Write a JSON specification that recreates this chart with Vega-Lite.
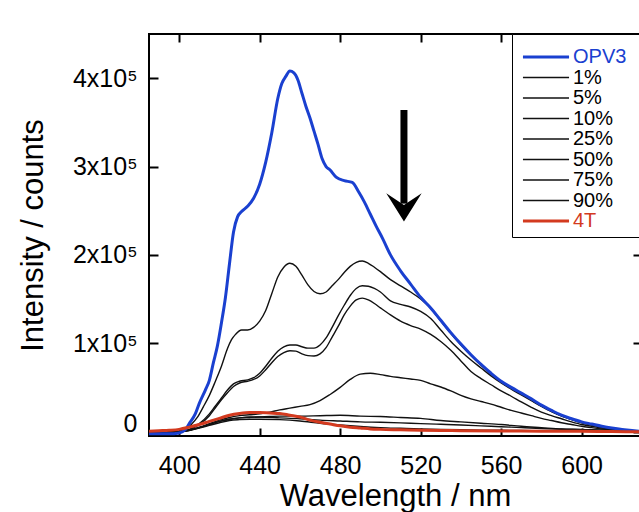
{
"$schema":"https://vega.github.io/schema/vega-lite/v6.json",
"width":492,"height":402,
"autosize":"none",
"padding":{"left":149,"top":34,"right":0,"bottom":76},
"background":"white",
"config":{"view":{"stroke":"black","strokeWidth":2},"font":"Liberation Sans"},
"datasets":{
"spectra":[
{"s":"OPV3","w":385,"i":-2500},{"s":"OPV3","w":390,"i":-2500},{"s":"OPV3","w":395,"i":-2500},{"s":"OPV3","w":400,"i":-1500},{"s":"OPV3","w":403,"i":2000},{"s":"OPV3","w":405,"i":9000},{"s":"OPV3","w":408,"i":20000},{"s":"OPV3","w":410,"i":32000},{"s":"OPV3","w":413,"i":47000},{"s":"OPV3","w":415,"i":58000},{"s":"OPV3","w":417,"i":78000},{"s":"OPV3","w":419,"i":97000},{"s":"OPV3","w":421,"i":123000},{"s":"OPV3","w":423,"i":152000},{"s":"OPV3","w":425,"i":190000},{"s":"OPV3","w":427,"i":226000},{"s":"OPV3","w":429,"i":243000},{"s":"OPV3","w":431,"i":249000},{"s":"OPV3","w":434,"i":255000},{"s":"OPV3","w":437,"i":264000},{"s":"OPV3","w":440,"i":280000},{"s":"OPV3","w":443,"i":305000},{"s":"OPV3","w":446,"i":338000},{"s":"OPV3","w":449,"i":377000},{"s":"OPV3","w":451,"i":394000},{"s":"OPV3","w":453,"i":402000},{"s":"OPV3","w":455,"i":408000},{"s":"OPV3","w":457,"i":406000},{"s":"OPV3","w":459,"i":398000},{"s":"OPV3","w":461,"i":383000},{"s":"OPV3","w":463,"i":368000},{"s":"OPV3","w":465,"i":355000},{"s":"OPV3","w":467,"i":340000},{"s":"OPV3","w":469,"i":325000},{"s":"OPV3","w":471,"i":309000},{"s":"OPV3","w":473,"i":300000},{"s":"OPV3","w":475,"i":296000},{"s":"OPV3","w":478,"i":288000},{"s":"OPV3","w":482,"i":284000},{"s":"OPV3","w":486,"i":282000},{"s":"OPV3","w":489,"i":272000},{"s":"OPV3","w":492,"i":260000},{"s":"OPV3","w":495,"i":246000},{"s":"OPV3","w":498,"i":232000},{"s":"OPV3","w":501,"i":219000},{"s":"OPV3","w":505,"i":200000},{"s":"OPV3","w":510,"i":182000},{"s":"OPV3","w":515,"i":167000},{"s":"OPV3","w":520,"i":152000},{"s":"OPV3","w":525,"i":140000},{"s":"OPV3","w":530,"i":126000},{"s":"OPV3","w":535,"i":112000},{"s":"OPV3","w":540,"i":99000},{"s":"OPV3","w":545,"i":87000},{"s":"OPV3","w":550,"i":76000},{"s":"OPV3","w":555,"i":66000},{"s":"OPV3","w":560,"i":57000},{"s":"OPV3","w":565,"i":50000},{"s":"OPV3","w":570,"i":43500},{"s":"OPV3","w":575,"i":37000},{"s":"OPV3","w":580,"i":30000},{"s":"OPV3","w":585,"i":24000},{"s":"OPV3","w":590,"i":18500},{"s":"OPV3","w":595,"i":14500},{"s":"OPV3","w":600,"i":11000},{"s":"OPV3","w":605,"i":8500},{"s":"OPV3","w":610,"i":6000},{"s":"OPV3","w":615,"i":4000},{"s":"OPV3","w":620,"i":2500},{"s":"OPV3","w":625,"i":1200},{"s":"OPV3","w":629,"i":300},

{"s":"1%","w":385,"i":-1000},{"s":"1%","w":395,"i":-500},{"s":"1%","w":400,"i":0},{"s":"1%","w":403,"i":2000},{"s":"1%","w":406,"i":8000},{"s":"1%","w":409,"i":16000},{"s":"1%","w":412,"i":28000},{"s":"1%","w":415,"i":41000},{"s":"1%","w":418,"i":57000},{"s":"1%","w":421,"i":74000},{"s":"1%","w":424,"i":94000},{"s":"1%","w":426,"i":104000},{"s":"1%","w":428,"i":110000},{"s":"1%","w":431,"i":115000},{"s":"1%","w":434,"i":115000},{"s":"1%","w":437,"i":118000},{"s":"1%","w":440,"i":125000},{"s":"1%","w":443,"i":137000},{"s":"1%","w":446,"i":156000},{"s":"1%","w":449,"i":175000},{"s":"1%","w":452,"i":186000},{"s":"1%","w":455,"i":190500},{"s":"1%","w":458,"i":187000},{"s":"1%","w":461,"i":177000},{"s":"1%","w":464,"i":166000},{"s":"1%","w":467,"i":158500},{"s":"1%","w":470,"i":156000},{"s":"1%","w":473,"i":158000},{"s":"1%","w":476,"i":165000},{"s":"1%","w":479,"i":172000},{"s":"1%","w":482,"i":180000},{"s":"1%","w":485,"i":187000},{"s":"1%","w":488,"i":191500},{"s":"1%","w":491,"i":193000},{"s":"1%","w":494,"i":190500},{"s":"1%","w":497,"i":186000},{"s":"1%","w":500,"i":181000},{"s":"1%","w":505,"i":172000},{"s":"1%","w":510,"i":165000},{"s":"1%","w":515,"i":158000},{"s":"1%","w":520,"i":150000},{"s":"1%","w":525,"i":139500},{"s":"1%","w":530,"i":125000},{"s":"1%","w":535,"i":111000},{"s":"1%","w":540,"i":98000},{"s":"1%","w":545,"i":86000},{"s":"1%","w":550,"i":75000},{"s":"1%","w":555,"i":65000},{"s":"1%","w":560,"i":56000},{"s":"1%","w":565,"i":49000},{"s":"1%","w":570,"i":42500},{"s":"1%","w":575,"i":36000},{"s":"1%","w":580,"i":29000},{"s":"1%","w":585,"i":23000},{"s":"1%","w":590,"i":18000},{"s":"1%","w":595,"i":14000},{"s":"1%","w":600,"i":10500},{"s":"1%","w":605,"i":8000},{"s":"1%","w":610,"i":5500},{"s":"1%","w":615,"i":3800},{"s":"1%","w":620,"i":2300},{"s":"1%","w":625,"i":1100},{"s":"1%","w":629,"i":300},

{"s":"5%","w":385,"i":-1000},{"s":"5%","w":400,"i":0},{"s":"5%","w":405,"i":2500},{"s":"5%","w":410,"i":9000},{"s":"5%","w":415,"i":20000},{"s":"5%","w":418,"i":29000},{"s":"5%","w":421,"i":38000},{"s":"5%","w":424,"i":47000},{"s":"5%","w":427,"i":54000},{"s":"5%","w":430,"i":57000},{"s":"5%","w":434,"i":58500},{"s":"5%","w":437,"i":61000},{"s":"5%","w":440,"i":66000},{"s":"5%","w":443,"i":74000},{"s":"5%","w":446,"i":83000},{"s":"5%","w":449,"i":91000},{"s":"5%","w":452,"i":96000},{"s":"5%","w":455,"i":98000},{"s":"5%","w":458,"i":98000},{"s":"5%","w":461,"i":96000},{"s":"5%","w":464,"i":94500},{"s":"5%","w":467,"i":94500},{"s":"5%","w":470,"i":98000},{"s":"5%","w":473,"i":106000},{"s":"5%","w":476,"i":118000},{"s":"5%","w":479,"i":131000},{"s":"5%","w":482,"i":143000},{"s":"5%","w":485,"i":154000},{"s":"5%","w":488,"i":162000},{"s":"5%","w":491,"i":165000},{"s":"5%","w":494,"i":164500},{"s":"5%","w":497,"i":162000},{"s":"5%","w":500,"i":158000},{"s":"5%","w":505,"i":148000},{"s":"5%","w":510,"i":144000},{"s":"5%","w":515,"i":141000},{"s":"5%","w":520,"i":136000},{"s":"5%","w":525,"i":128000},{"s":"5%","w":530,"i":115000},{"s":"5%","w":535,"i":102000},{"s":"5%","w":540,"i":91000},{"s":"5%","w":545,"i":81000},{"s":"5%","w":550,"i":72000},{"s":"5%","w":555,"i":63000},{"s":"5%","w":560,"i":55000},{"s":"5%","w":565,"i":48000},{"s":"5%","w":570,"i":41500},{"s":"5%","w":575,"i":35000},{"s":"5%","w":580,"i":28500},{"s":"5%","w":585,"i":22500},{"s":"5%","w":590,"i":17500},{"s":"5%","w":595,"i":13500},{"s":"5%","w":600,"i":10000},{"s":"5%","w":605,"i":7500},{"s":"5%","w":610,"i":5000},{"s":"5%","w":615,"i":3500},{"s":"5%","w":620,"i":2000},{"s":"5%","w":625,"i":1000},{"s":"5%","w":629,"i":300},

{"s":"10%","w":385,"i":-1000},{"s":"10%","w":400,"i":0},{"s":"10%","w":405,"i":2000},{"s":"10%","w":410,"i":8000},{"s":"10%","w":415,"i":18000},{"s":"10%","w":418,"i":27000},{"s":"10%","w":421,"i":36000},{"s":"10%","w":424,"i":44000},{"s":"10%","w":427,"i":51000},{"s":"10%","w":430,"i":55000},{"s":"10%","w":434,"i":57000},{"s":"10%","w":437,"i":59000},{"s":"10%","w":440,"i":63000},{"s":"10%","w":443,"i":70000},{"s":"10%","w":446,"i":78000},{"s":"10%","w":449,"i":85000},{"s":"10%","w":452,"i":89500},{"s":"10%","w":455,"i":91500},{"s":"10%","w":458,"i":91000},{"s":"10%","w":461,"i":88000},{"s":"10%","w":464,"i":86000},{"s":"10%","w":467,"i":85500},{"s":"10%","w":470,"i":88000},{"s":"10%","w":473,"i":95000},{"s":"10%","w":476,"i":107000},{"s":"10%","w":479,"i":119000},{"s":"10%","w":482,"i":132000},{"s":"10%","w":485,"i":142000},{"s":"10%","w":488,"i":149000},{"s":"10%","w":491,"i":151000},{"s":"10%","w":494,"i":149000},{"s":"10%","w":497,"i":145000},{"s":"10%","w":500,"i":140000},{"s":"10%","w":505,"i":132000},{"s":"10%","w":510,"i":125000},{"s":"10%","w":515,"i":120000},{"s":"10%","w":520,"i":116000},{"s":"10%","w":525,"i":110000},{"s":"10%","w":530,"i":102000},{"s":"10%","w":535,"i":92000},{"s":"10%","w":540,"i":80000},{"s":"10%","w":545,"i":68000},{"s":"10%","w":550,"i":60000},{"s":"10%","w":555,"i":53000},{"s":"10%","w":560,"i":46000},{"s":"10%","w":565,"i":40000},{"s":"10%","w":570,"i":33500},{"s":"10%","w":575,"i":27500},{"s":"10%","w":580,"i":22000},{"s":"10%","w":585,"i":18000},{"s":"10%","w":590,"i":14500},{"s":"10%","w":595,"i":11000},{"s":"10%","w":600,"i":8000},{"s":"10%","w":605,"i":6000},{"s":"10%","w":610,"i":4000},{"s":"10%","w":615,"i":2800},{"s":"10%","w":620,"i":1700},{"s":"10%","w":625,"i":800},{"s":"10%","w":629,"i":200},

{"s":"25%","w":385,"i":-1000},{"s":"25%","w":400,"i":0},{"s":"25%","w":405,"i":1500},{"s":"25%","w":410,"i":5000},{"s":"25%","w":415,"i":9000},{"s":"25%","w":420,"i":13000},{"s":"25%","w":425,"i":16000},{"s":"25%","w":430,"i":18000},{"s":"25%","w":435,"i":19000},{"s":"25%","w":440,"i":20000},{"s":"25%","w":445,"i":22000},{"s":"25%","w":450,"i":24500},{"s":"25%","w":455,"i":26500},{"s":"25%","w":460,"i":28500},{"s":"25%","w":465,"i":30500},{"s":"25%","w":470,"i":35000},{"s":"25%","w":475,"i":42000},{"s":"25%","w":480,"i":50000},{"s":"25%","w":485,"i":59000},{"s":"25%","w":490,"i":65000},{"s":"25%","w":495,"i":66000},{"s":"25%","w":500,"i":64500},{"s":"25%","w":505,"i":62500},{"s":"25%","w":510,"i":61000},{"s":"25%","w":515,"i":59500},{"s":"25%","w":520,"i":58000},{"s":"25%","w":525,"i":54000},{"s":"25%","w":530,"i":50500},{"s":"25%","w":535,"i":46000},{"s":"25%","w":540,"i":41000},{"s":"25%","w":545,"i":37000},{"s":"25%","w":550,"i":34000},{"s":"25%","w":555,"i":31000},{"s":"25%","w":560,"i":27500},{"s":"25%","w":565,"i":24000},{"s":"25%","w":570,"i":21000},{"s":"25%","w":575,"i":18000},{"s":"25%","w":580,"i":15000},{"s":"25%","w":585,"i":12500},{"s":"25%","w":590,"i":10000},{"s":"25%","w":595,"i":8000},{"s":"25%","w":600,"i":6000},{"s":"25%","w":605,"i":4500},{"s":"25%","w":610,"i":3000},{"s":"25%","w":615,"i":2000},{"s":"25%","w":620,"i":1200},{"s":"25%","w":625,"i":600},{"s":"25%","w":629,"i":200},

{"s":"50%","w":385,"i":-1000},{"s":"50%","w":400,"i":0},{"s":"50%","w":405,"i":1500},{"s":"50%","w":410,"i":4500},{"s":"50%","w":415,"i":8000},{"s":"50%","w":420,"i":11500},{"s":"50%","w":425,"i":14000},{"s":"50%","w":430,"i":15500},{"s":"50%","w":435,"i":16000},{"s":"50%","w":440,"i":16500},{"s":"50%","w":445,"i":17000},{"s":"50%","w":450,"i":17500},{"s":"50%","w":460,"i":17500},{"s":"50%","w":470,"i":18000},{"s":"50%","w":480,"i":18500},{"s":"50%","w":490,"i":17500},{"s":"50%","w":500,"i":17000},{"s":"50%","w":510,"i":16000},{"s":"50%","w":520,"i":15000},{"s":"50%","w":530,"i":12500},{"s":"50%","w":540,"i":11000},{"s":"50%","w":550,"i":9500},{"s":"50%","w":560,"i":8000},{"s":"50%","w":570,"i":6000},{"s":"50%","w":580,"i":4500},{"s":"50%","w":590,"i":3000},{"s":"50%","w":600,"i":2500},{"s":"50%","w":610,"i":1500},{"s":"50%","w":620,"i":1000},{"s":"50%","w":629,"i":500},

{"s":"75%","w":385,"i":-1000},{"s":"75%","w":400,"i":0},{"s":"75%","w":405,"i":1500},{"s":"75%","w":410,"i":4500},{"s":"75%","w":415,"i":8000},{"s":"75%","w":420,"i":11500},{"s":"75%","w":425,"i":14000},{"s":"75%","w":430,"i":15500},{"s":"75%","w":435,"i":16500},{"s":"75%","w":440,"i":16500},{"s":"75%","w":450,"i":15500},{"s":"75%","w":460,"i":14500},{"s":"75%","w":470,"i":13000},{"s":"75%","w":480,"i":12000},{"s":"75%","w":490,"i":11000},{"s":"75%","w":500,"i":10500},{"s":"75%","w":510,"i":9800},{"s":"75%","w":520,"i":9000},{"s":"75%","w":530,"i":8300},{"s":"75%","w":540,"i":7500},{"s":"75%","w":550,"i":6500},{"s":"75%","w":560,"i":5500},{"s":"75%","w":570,"i":4500},{"s":"75%","w":580,"i":3500},{"s":"75%","w":590,"i":2700},{"s":"75%","w":600,"i":2000},{"s":"75%","w":610,"i":1500},{"s":"75%","w":620,"i":1000},{"s":"75%","w":629,"i":500},

{"s":"90%","w":385,"i":-1000},{"s":"90%","w":400,"i":0},{"s":"90%","w":405,"i":1200},{"s":"90%","w":410,"i":4000},{"s":"90%","w":415,"i":7000},{"s":"90%","w":420,"i":10000},{"s":"90%","w":425,"i":12500},{"s":"90%","w":430,"i":13500},{"s":"90%","w":435,"i":14000},{"s":"90%","w":440,"i":14000},{"s":"90%","w":450,"i":13500},{"s":"90%","w":460,"i":12000},{"s":"90%","w":470,"i":9500},{"s":"90%","w":480,"i":7500},{"s":"90%","w":490,"i":5800},{"s":"90%","w":500,"i":4500},{"s":"90%","w":510,"i":3700},{"s":"90%","w":520,"i":3000},{"s":"90%","w":530,"i":2500},{"s":"90%","w":540,"i":2000},{"s":"90%","w":550,"i":1700},{"s":"90%","w":560,"i":1500},{"s":"90%","w":570,"i":1200},{"s":"90%","w":580,"i":1000},{"s":"90%","w":600,"i":600},{"s":"90%","w":615,"i":300},{"s":"90%","w":629,"i":0},

{"s":"4T","w":385,"i":500},{"s":"4T","w":390,"i":1000},{"s":"4T","w":395,"i":1500},{"s":"4T","w":400,"i":2500},{"s":"4T","w":405,"i":5000},{"s":"4T","w":410,"i":8000},{"s":"4T","w":415,"i":11500},{"s":"4T","w":420,"i":15000},{"s":"4T","w":425,"i":18500},{"s":"4T","w":430,"i":20500},{"s":"4T","w":435,"i":21500},{"s":"4T","w":440,"i":21500},{"s":"4T","w":445,"i":21000},{"s":"4T","w":450,"i":20500},{"s":"4T","w":455,"i":18500},{"s":"4T","w":460,"i":16500},{"s":"4T","w":465,"i":13000},{"s":"4T","w":470,"i":10500},{"s":"4T","w":475,"i":8500},{"s":"4T","w":480,"i":6500},{"s":"4T","w":485,"i":5000},{"s":"4T","w":490,"i":4000},{"s":"4T","w":495,"i":3000},{"s":"4T","w":500,"i":2500},{"s":"4T","w":510,"i":2000},{"s":"4T","w":520,"i":1500},{"s":"4T","w":530,"i":1200},{"s":"4T","w":540,"i":1000},{"s":"4T","w":560,"i":700},{"s":"4T","w":580,"i":500},{"s":"4T","w":600,"i":300},{"s":"4T","w":615,"i":0},{"s":"4T","w":629,"i":-300}
],
"arrow":[{"w":511.7,"top":364000,"bottom":258000,"head":253700}]
},
"layer":[
{
"data":{"name":"spectra"},
"transform":[{"filter":"datum.s != 'OPV3' && datum.s != '4T'"}],
"mark":{"type":"line","strokeWidth":1.4,"clip":true,"interpolate":"monotone"},
"encoding":{
"x":{"field":"w","type":"quantitative","scale":{"domain":[385,629.5],"nice":false,"zero":false},
"axis":{"orient":"bottom","values":[400,440,480,520,560,600],"grid":false,"domain":false,"tickSize":-8,"tickWidth":2,"tickColor":"black","labelFontSize":25,"labelColor":"black","labelPadding":25,"labelFont":"Liberation Sans","title":"Wavelength / nm","titleFontSize":31,"titleFontWeight":"normal","titleColor":"black","titleFont":"Liberation Sans","titleX":246,"titleY":69,"titleBaseline":"alphabetic","titleAlign":"center"}},
"y":{"field":"i","type":"quantitative","scale":{"domain":[-5000,450000],"nice":false,"zero":false},
"axis":{"orient":"left","values":[0,100000,200000,300000,400000],"grid":false,"domain":false,"tickSize":-9,"tickWidth":2,"tickColor":"black","labelFontSize":25,"labelColor":"black","labelPadding":21,"labelFont":"Liberation Sans","labelBaseline":{"condition":{"test":"datum.value == 0","value":"alphabetic"},"value":"middle"},"labelExpr":"datum.value == 0 ? '0' : format(datum.value/100000,'d') + 'x10\u2075'","title":"Intensity / counts","titleFontSize":31,"titleFontWeight":"normal","titleColor":"black","titleFont":"Liberation Sans","titleX":-116,"titleY":201,"titleAngle":-90,"titleAlign":"center","titleBaseline":"middle"}},
"color":{"field":"s","type":"nominal","sort":null,
"scale":{"domain":["OPV3","1%","5%","10%","25%","50%","75%","90%","4T"],"range":["#1a40d0","#111111","#111111","#111111","#111111","#111111","#111111","#111111","#d33a1f"]},
"legend":{"orient":"none","legendX":363,"legendY":0,"title":" ","titleFontSize":7,"titlePadding":0,"padding":6,"strokeColor":"black","fillColor":"white","symbolType":"M-0.56,0H4.56","symbolSize":324,"symbolStrokeWidth":1.5,"labelFontSize":20,"labelFont":"Liberation Sans","labelOffset":35,"rowPadding":0.5,"labelExpr":"datum.label + '\u2800'",
"encode":{"labels":{"update":{"fill":{"signal":"datum.value == 'OPV3' ? '#1a40d0' : datum.value == '4T' ? '#d33a1f' : '#000000'"}}},
"symbols":{"update":{"strokeWidth":{"signal":"datum.value == 'OPV3' || datum.value == '4T' ? 3 : 1.5"}}}}}}
}
},
{
"data":{"name":"spectra"},
"transform":[{"filter":"datum.s == 'OPV3'"}],
"mark":{"type":"line","strokeWidth":3,"clip":true,"interpolate":"monotone"},
"encoding":{
"x":{"field":"w","type":"quantitative","axis":{"orient":"top","values":[400,440,480,520,560,600],"grid":false,"domain":false,"labels":false,"tickSize":-8,"tickWidth":2,"tickColor":"black","title":null}},
"y":{"field":"i","type":"quantitative","axis":{"orient":"right","values":[0,100000,200000,300000,400000],"grid":false,"domain":false,"labels":false,"tickSize":-8,"tickWidth":2,"tickColor":"black","title":null}},
"color":{"field":"s","type":"nominal","sort":null}
}
},
{
"data":{"name":"spectra"},
"transform":[{"filter":"datum.s == '4T'"}],
"mark":{"type":"line","strokeWidth":3,"clip":true,"interpolate":"monotone"},
"encoding":{
"x":{"field":"w","type":"quantitative","axis":null},
"y":{"field":"i","type":"quantitative","axis":null},
"color":{"field":"s","type":"nominal","sort":null}
}
},
{
"data":{"name":"arrow"},
"mark":{"type":"rule","strokeWidth":7,"color":"black"},
"encoding":{
"x":{"field":"w","type":"quantitative","axis":null},
"y":{"field":"top","type":"quantitative","axis":null},
"y2":{"field":"bottom"}
}
},
{
"data":{"name":"arrow"},
"mark":{"type":"point","shape":"M0,0.8L-1,-0.8L0,-0.14L1,-0.8Z","size":1253,"filled":true,"color":"black","opacity":1,"strokeWidth":0},
"encoding":{
"x":{"field":"w","type":"quantitative","axis":null},
"y":{"field":"head","type":"quantitative","axis":null}
}
}
],
"resolve":{"axis":{"x":"independent","y":"independent"}}
}
